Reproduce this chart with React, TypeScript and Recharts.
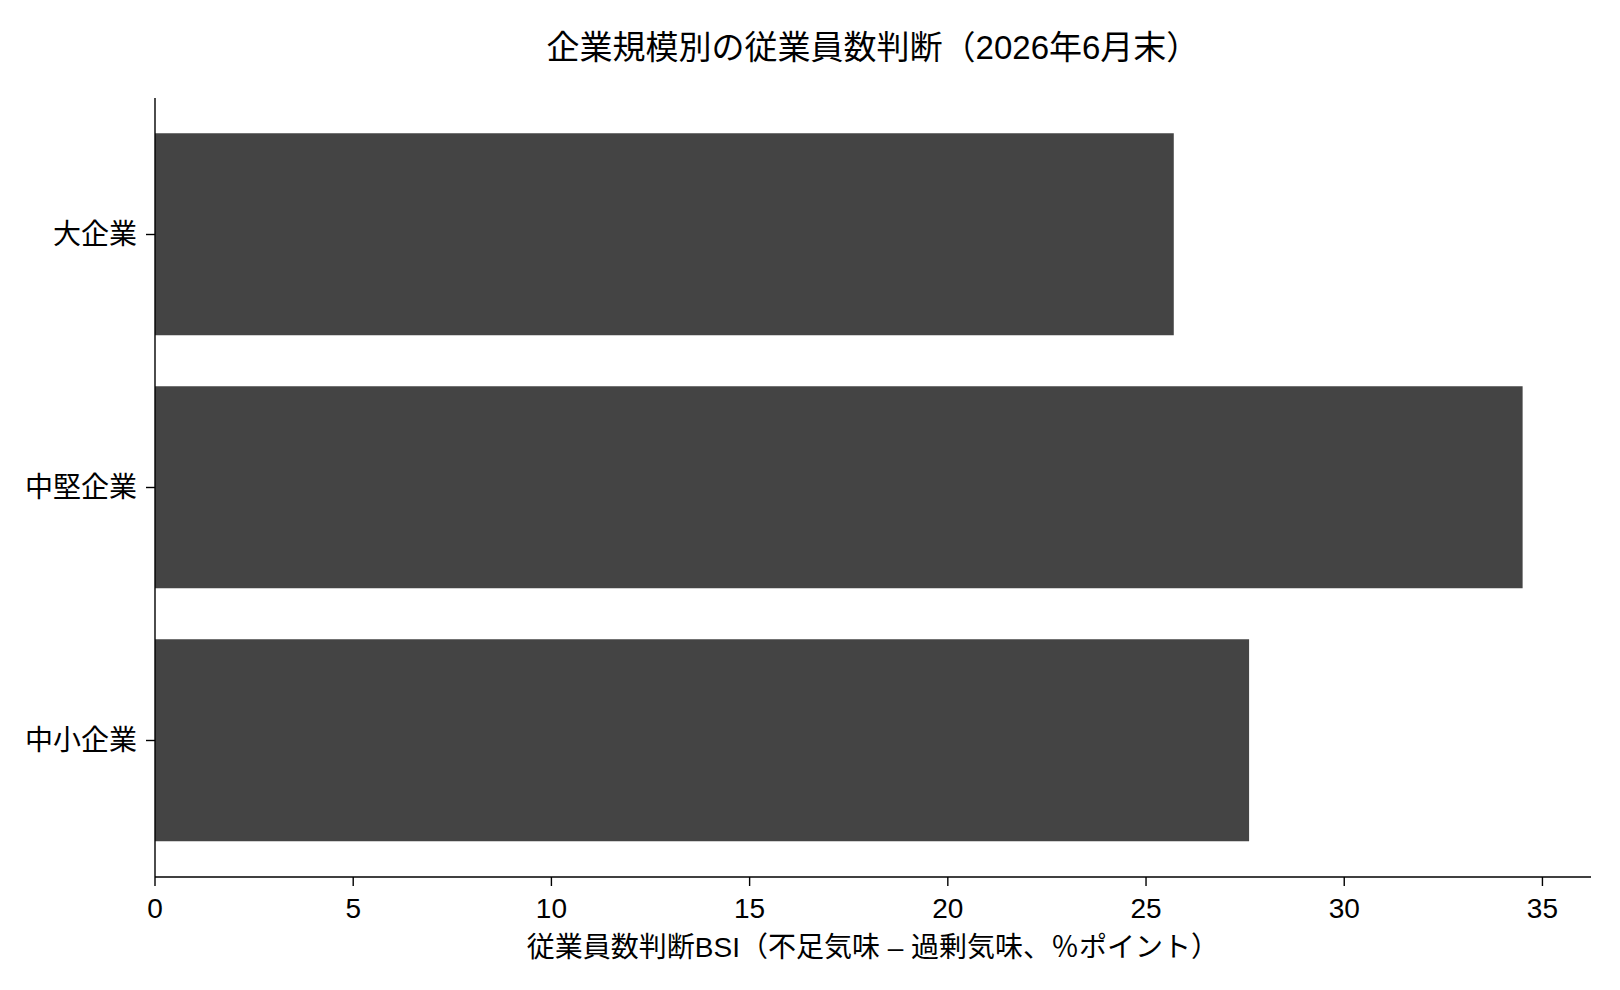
import React from 'react';
import { BarChart, Bar, XAxis, YAxis } from 'recharts';

// 値は図から読み取った推定値
const categories = ['大企業', '中堅企業', '中小企業'];
const bsiValues = [25.7, 34.5, 27.6];
const xTicks = [0, 5, 10, 15, 20, 25, 30, 35];

const chartData = categories.map((name, i) => ({ name, value: bsiValues[i] }));

if (typeof document !== 'undefined') {
  document.body.style.margin = '0';
}

// 欧文は Liberation Sans、和文は Noto Sans CJK JP にフォールバック
const FONT = '"Liberation Sans", "Noto Sans CJK JP", sans-serif';
const W = 1620;
const H = 990;
const PLOT_LEFT = 155;
const PLOT_RIGHT = 1591;
const PLOT_TOP = 98;
const PLOT_BOTTOM = 877;

const App: React.FC = () => {
  const plotWidth = PLOT_RIGHT - PLOT_LEFT;
  return (
    <div style={{ position: 'relative', width: W, height: H, background: '#fff', fontFamily: FONT }}>
      <div
        style={{
          position: 'absolute',
          top: 29,
          left: PLOT_LEFT,
          width: plotWidth,
          textAlign: 'center',
          fontSize: 33,
          lineHeight: '38px',
          color: '#000',
        }}
      >
        企業規模別の従業員数判断（2026年6月末）
      </div>
      <BarChart
        width={W}
        height={H}
        data={chartData}
        layout="vertical"
        barCategoryGap="10%"
        margin={{ top: PLOT_TOP, right: W - PLOT_RIGHT, left: 0, bottom: H - PLOT_BOTTOM - 60 }}
      >
        <XAxis
          type="number"
          domain={[0, 36.225]}
          ticks={xTicks}
          height={60}
          axisLine={{ stroke: '#000', strokeWidth: 1.4 }}
          tickLine={{ stroke: '#000', strokeWidth: 1.4 }}
          tickSize={9}
          tickMargin={12}
          tick={{ fill: '#000', fontSize: 28, fontFamily: FONT }}
        />
        <YAxis
          type="category"
          dataKey="name"
          width={PLOT_LEFT}
          padding={{ top: 10, bottom: 10 }}
          axisLine={{ stroke: '#000', strokeWidth: 1.4 }}
          tickLine={{ stroke: '#000', strokeWidth: 1.4 }}
          tickSize={9}
          tickMargin={9}
          interval={0}
          tick={{ fill: '#000', fontSize: 28, fontFamily: FONT }}
        />
        <Bar dataKey="value" fill="#444444" isAnimationActive={false} />
      </BarChart>
      <div
        style={{
          position: 'absolute',
          top: 931,
          left: PLOT_LEFT,
          width: plotWidth,
          textAlign: 'center',
          fontSize: 28,
          lineHeight: '34px',
          color: '#000',
        }}
      >
        従業員数判断BSI（不足気味 – 過剰気味、％ポイント）
      </div>
    </div>
  );
};

export default App;
